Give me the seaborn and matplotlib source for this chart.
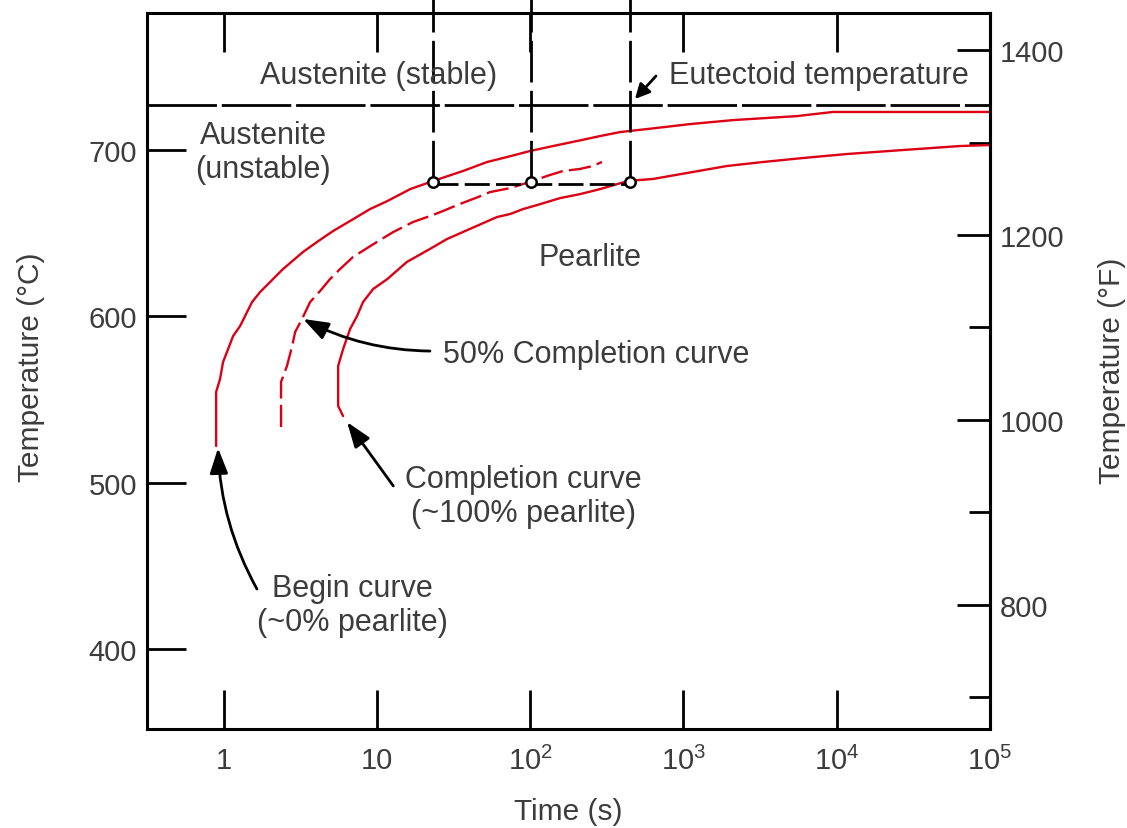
import numpy as np
import pandas as pd
import matplotlib
matplotlib.use("Agg")
import matplotlib.pyplot as plt
import seaborn as sns

# Кривые изотермического превращения (время, с / температура, °C)
begin_t = [0.894, 0.894, 0.948, 0.992, 1.07, 1.153, 1.282, 1.534, 1.73, 2.01, 2.44, 3.30,
           4.07, 5.18, 6.68, 9.03, 11.7, 16.5, 23.3, 36.5, 52.4, 70.7, 99.8, 141, 202, 286,
           386, 578, 1104, 2108, 5510, 9460, 1.0e5]
begin_T = [522.0, 554.5, 562.3, 572.5, 580.3, 588.1, 594.2, 608.6, 614.6, 620.6, 628.4, 638.7,
           644.7, 651.3, 657.3, 664.5, 669.3, 676.5, 681.4, 687.4, 692.8, 695.8, 699.4, 702.4,
           705.4, 708.4, 710.8, 712.6, 715.6, 718.0, 720.4, 722.9, 722.9]

half_t = [2.37, 2.37, 2.59, 2.80, 2.93, 3.25, 3.67, 4.26, 4.95, 5.75, 6.99, 10.0, 12.8, 17.2,
          22.2, 27.0, 33.4, 45.7, 54.7, 73.9, 104.5, 128.8, 164, 211, 257, 294]
half_T = [533.4, 560.5, 570.1, 582.1, 590.6, 598.4, 608.6, 615.2, 622.4, 628.4, 635.7, 644.7,
          650.7, 656.7, 660.3, 663.3, 666.9, 671.7, 674.7, 677.1, 681.4, 684.4, 687.4, 688.6,
          690.4, 692.8]

end_t = [6.02, 5.59, 5.59, 6.02, 6.69, 7.43, 8.13, 9.45, 11.7, 15.7, 22.2, 28.7, 60.8, 74,
         89.9, 111, 157, 212, 286, 435, 634, 818, 1925, 3306, 6030, 11670, 27000, 63700, 1.0e5]
end_T = [540.0, 546.1, 570.1, 580.3, 592.4, 600.2, 608.6, 616.4, 622.4, 632.7, 640.5, 646.5,
         659.7, 661.5, 664.5, 666.9, 671.1, 673.5, 676.5, 681.4, 682.6, 684.4, 690.4, 692.8,
         695.2, 697.6, 700.0, 702.4, 703.0]

eutectoid_T = 727
iso_T = 681
iso_times = [23.3, 102, 449]

x_ticks = [1, 10, 100, 1e3, 1e4, 1e5]
x_labels = ["1", "10", "10$^2$", "10$^3$", "10$^4$", "10$^5$"]
c_ticks = [400, 500, 600, 700]
f_ticks = [800, 1000, 1200, 1400]
f_minor = [700, 900, 1100, 1300]

sns.set_theme(style="white")
plt.rcParams['font.family'] = ['Liberation Sans', 'DejaVu Sans']
plt.rcParams['mathtext.fontset'] = 'custom'
plt.rcParams['mathtext.rm'] = 'Liberation Sans'
plt.rcParams['mathtext.default'] = 'regular'
plt.rcParams['lines.scale_dashes'] = False

RED = '#dd0015'
TXT = '#3c3c3c'
FS = 22

fig = plt.figure(figsize=(11.27, 8.29), dpi=100)
ax = fig.add_axes([0.1304, 0.1194, 0.7480, 0.8637])

# кривые
df_begin = pd.DataFrame({"t": begin_t, "T": begin_T})
df_half = pd.DataFrame({"t": half_t, "T": half_T})
df_end = pd.DataFrame({"t": end_t, "T": end_T})
sns.lineplot(data=df_begin, x="t", y="T", sort=False, estimator=None, color=RED, lw=1.7, ax=ax)
sns.lineplot(data=df_end, x="t", y="T", sort=False, estimator=None, color=RED, lw=1.7, ax=ax)
sns.lineplot(data=df_half, x="t", y="T", sort=False, estimator=None, color=RED, lw=1.7, ax=ax)
ax.lines[-1].set_dashes((16, 4.5))

ax.set_xscale("log")
ax.set_xlim(10 ** -0.5, 1e5)
ax.set_ylim(351.8, 782.4)

# эвтектоидная температура и изотерма
ax.axhline(eutectoid_T, color='black', lw=2.0, dashes=(50, 3.5))
for t in iso_times:
    ax.plot([t, t], [iso_T, 792], color='black', lw=2.0, dashes=(30, 6), clip_on=False)
ax.plot([iso_times[0], iso_times[-1]], [iso_T - 1.5, iso_T - 1.5], color='black', lw=2.0,
        dashes=(18, 4.5))
ax.plot(iso_times, [iso_T] * 3, 'o', ms=7.5, mfc='white', mec='black', mew=1.8, zorder=5)

# оси
for s in ax.spines.values():
    s.set_color('black')
    s.set_linewidth(2.2)
ax.set_xticks(x_ticks)
ax.set_xticklabels(x_labels)
ax.xaxis.set_minor_locator(matplotlib.ticker.NullLocator())
ax.set_yticks(c_ticks)
ax.tick_params(axis='x', which='major', direction='in', length=28, width=2.0, color='black',
               top=True, bottom=True, pad=12, labelsize=21, labelcolor=TXT)
ax.tick_params(axis='y', which='major', direction='in', length=28, width=2.0, color='black',
               left=True, right=False, pad=7, labelsize=21, labelcolor=TXT)

sec = ax.secondary_yaxis('right', functions=(lambda c: c * 1.8 + 32, lambda f: (f - 32) / 1.8))
sec.set_yticks(f_ticks)
sec.yaxis.set_minor_locator(matplotlib.ticker.FixedLocator(f_minor))
sec.spines['right'].set_linewidth(2.2)
sec.tick_params(which='major', direction='in', length=24, width=2.0, color='black', pad=7,
                labelsize=21, labelcolor=TXT)
sec.tick_params(which='minor', direction='in', length=15, width=2.0, color='black')

ax.set_ylabel("Temperature (°C)", fontsize=21.5, color=TXT)
ax.yaxis.set_label_coords(-0.1376, 0.507)
ax.yaxis.label.set_va('center')
sec.set_ylabel("Temperature (°F)", fontsize=21.5, color=TXT, rotation=90)
sec.yaxis.set_label_coords(1.1447, 0.501, transform=ax.transAxes)
sec.yaxis.label.set_va('center')
ax.set_xlabel("Time (s)", fontsize=21.5, color=TXT)
ax.xaxis.set_label_coords(0.4994, -0.1145)
ax.xaxis.label.set_va('center')

# подписи
ax.text(10.2, 745, "Austenite (stable)", fontsize=FS, color=TXT, ha='center', va='center')
ax.text(800, 745, "Eutectoid temperature", fontsize=FS, color=TXT, ha='left', va='center')
ax.text(1.81, 698.8, "Austenite\n(unstable)", fontsize=FS, color=TXT, ha='center', va='center',
        linespacing=1.15)
ax.text(246, 635.7, "Pearlite", fontsize=FS, color=TXT, ha='center', va='center')

arrow = dict(arrowstyle='-|>,head_length=0.7,head_width=0.25', color='black', lw=2.0,
             mutation_scale=22, shrinkA=0, shrinkB=0)
ax.annotate("", xy=(483, 730.7), xytext=(662, 744.5),
            arrowprops=dict(arrow, arrowstyle='-|>,head_length=0.4,head_width=0.2'))
ax.text(27.0, 577.3, "50% Completion curve", fontsize=FS, color=TXT, ha='left', va='center')
ax.annotate("", xy=(3.30, 598.4), xytext=(22.2, 579.1),
            arrowprops=dict(arrow, connectionstyle='arc3,rad=-0.12'))
ax.text(89.9, 492, "Completion curve\n(~100% pearlite)", fontsize=FS, color=TXT,
        ha='center', va='center', linespacing=1.15)
ax.annotate("", xy=(6.39, 536.4), xytext=(12.8, 498), arrowprops=arrow)
ax.text(6.89, 426.4, "Begin curve\n(~0% pearlite)", fontsize=FS, color=TXT,
        ha='center', va='center', linespacing=1.15)
ax.annotate("", xy=(0.92, 520.8), xytext=(1.65, 436),
            arrowprops=dict(arrow, connectionstyle='arc3,rad=-0.12'))

fig.savefig("out.png", dpi=100)
